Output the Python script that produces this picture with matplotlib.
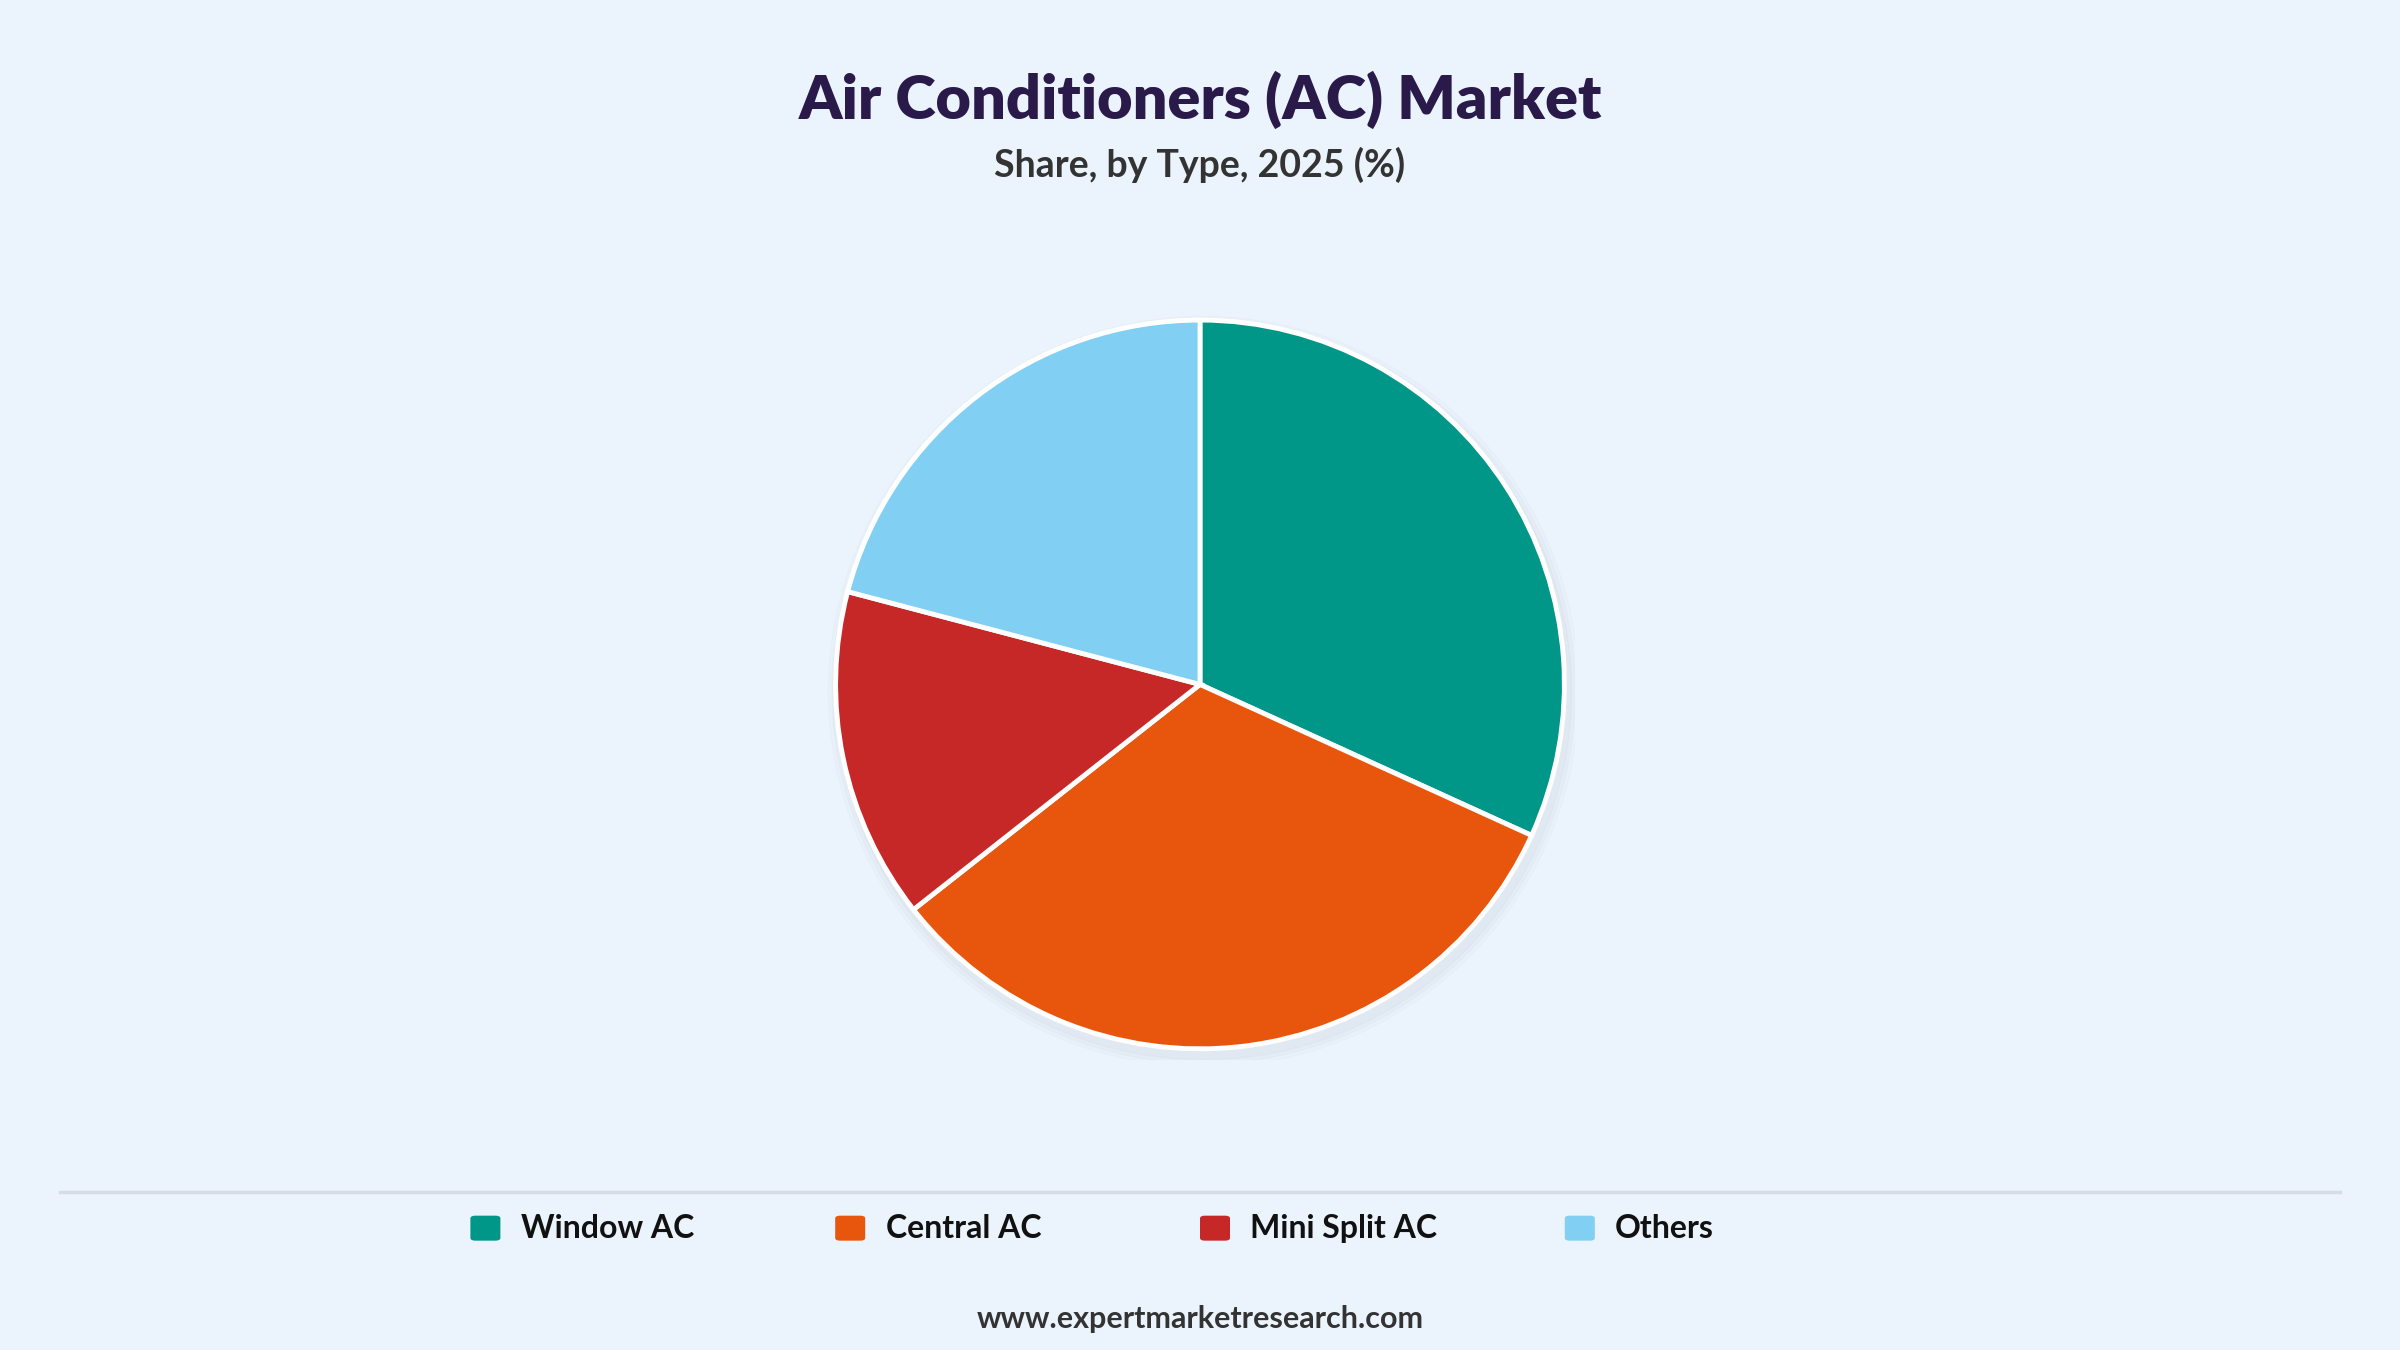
import matplotlib
matplotlib.use("Agg")
import matplotlib.pyplot as plt
from matplotlib.patches import FancyBboxPatch, Circle

categories = ["Window AC", "Central AC", "Mini Split AC", "Others"]
values = [31.8, 32.6, 14.7, 20.9]
colors = ["#009688", "#E8560E", "#C62828", "#81CFF2"]

bg = "#EBF3FC"
fig = plt.figure(figsize=(24, 13.5), dpi=100, facecolor=bg)

h = 0.556
w = h * 1350 / 2400
ax = fig.add_axes([0.5 - w / 2, 0.493 - h / 2, w, h])
ax.set_facecolor(bg)
# soft shadow
for i, a in enumerate([0.05, 0.04, 0.03]):
    ax.add_patch(Circle((0.01, -0.02), 1.0 + 0.01 * (i + 1), color="#9aa5b5", alpha=a, zorder=0))
ax.pie(values, colors=colors, startangle=90, counterclock=False,
       wedgeprops=dict(edgecolor="white", linewidth=3.5), radius=1.0)
ax.set_xlim(-1.03, 1.03)
ax.set_ylim(-1.03, 1.03)
ax.set_aspect("equal")
ax.axis("off")

fig.text(0.5, 0.926, "Air Conditioners (AC) Market", ha="center", va="center",
         fontsize=44, fontweight="heavy", color="#2A1A4A", family="Lato")
fig.text(0.5, 0.878, "Share, by Type, 2025 (%)", ha="center", va="center",
         fontsize=27, fontweight="bold", color="#333333", family="Lato")

fig.add_artist(plt.Line2D([0.025, 0.975], [0.117, 0.117], color="#D6DCE3", linewidth=2.5))

xs = [0.196, 0.348, 0.500, 0.652]
for x, c, lab in zip(xs, colors, categories):
    fig.add_artist(FancyBboxPatch((x, 0.081), 0.0125, 0.0185, boxstyle="round,pad=0,rounding_size=0.002",
                                  facecolor=c, edgecolor="none", transform=fig.transFigure))
    fig.text(x + 0.021, 0.090, lab, ha="left", va="center", fontsize=23,
             fontweight="bold", color="#111111", family="Lato")

fig.text(0.5, 0.023, "www.expertmarketresearch.com", ha="center", va="center",
         fontsize=22, fontweight="bold", color="#333333", family="Lato")

fig.savefig("out.png", dpi=100, facecolor=bg)
